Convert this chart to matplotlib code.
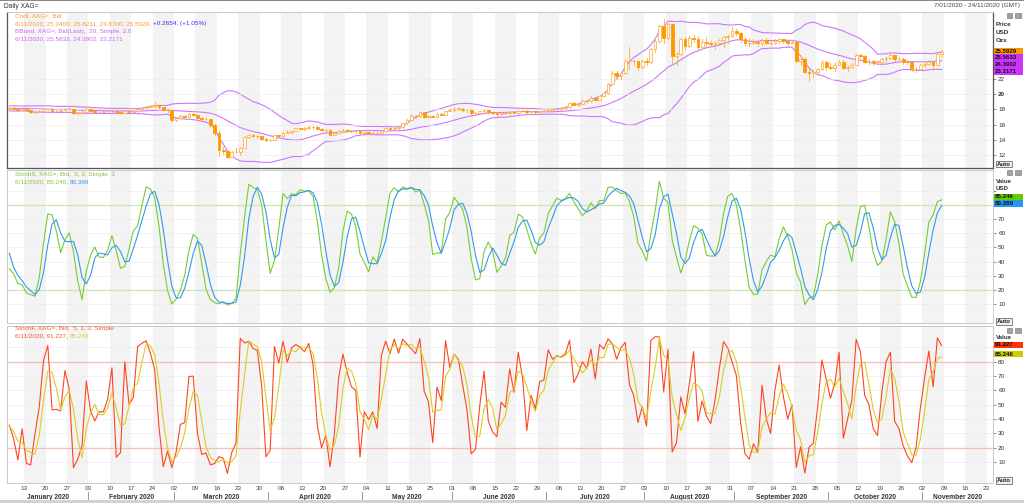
import numpy as np
import pandas as pd
import matplotlib
matplotlib.use('Agg')
import matplotlib.pyplot as plt
from matplotlib.patches import Rectangle
import matplotlib.transforms as mtrans

plt.rcParams['font.family'] = ['Liberation Sans', 'DejaVu Sans']

# daily XAG= bid, 21 warm-up days (9 Dec 2019 - 6 Jan 2020) then 7 Jan - 6 Nov 2020
opens = [
    17.75, 17.80, 17.95, 18.20, 18.05, 17.85, 18.10, 18.35, 18.20, 17.95, 17.90, 18.15, 18.40, 18.25, 18.00, 17.85, 18.05, 18.30, 18.45, 18.20, 18.05,  # warm-up
    18.09, 18.17, 18.09, 17.93, 18.10, 17.91, 17.60, 17.70, 17.82, 18.02, 18.04, 17.80, 17.84, 17.90, 18.05, 18.07, 17.50, 17.55, 17.62,  # jan
    18.00, 17.74, 17.68, 17.72, 17.78, 17.82, 17.80, 17.62, 17.58, 17.84, 17.72, 17.74, 18.00, 18.20, 18.36, 18.50, 18.60, 18.28, 17.95, 17.88,  # feb
    16.60, 16.82, 17.13, 17.05, 17.46, 17.25, 16.90, 16.75, 16.76, 15.90, 14.85, 12.60, 12.55, 11.75, 12.38, 12.45, 12.95, 14.35, 14.62, 14.50, 14.46, 14.10,  # mar
    13.98, 14.00, 14.60, 14.50, 14.95, 15.00, 15.16, 15.50, 15.48, 15.52, 15.72, 15.65, 15.46, 15.24, 15.30, 14.68, 14.95, 15.22, 15.30, 15.18, 15.10, 15.20,  # apr
    14.95, 14.98, 14.90, 14.92, 14.85, 15.20, 15.50, 15.48, 15.58, 15.66, 16.20, 16.60, 17.18, 17.12, 17.60, 17.05, 17.15, 17.05, 17.38, 17.30, 17.80,  # may
    17.90, 18.10, 18.10, 17.92, 17.98, 17.50, 17.52, 17.76, 17.90, 17.62, 17.58, 17.38, 17.58, 17.55, 17.60, 17.52, 17.82, 17.80, 17.62, 17.75, 17.70, 17.80,  # jun
    17.82, 17.98, 18.00, 18.02, 18.20, 18.30, 18.80, 18.62, 18.70, 19.10, 19.08, 19.56, 19.30, 19.80, 20.10, 21.40, 22.80, 22.40, 22.75, 24.35, 24.40, 24.35, 23.55,  # jul
    24.40, 24.25, 25.95, 27.05, 28.95, 27.40, 29.20, 25.00, 25.30, 27.20, 26.30, 27.40, 27.30, 26.20, 26.90, 26.70, 26.60, 26.80, 27.10, 27.50, 27.60,  # aug
    28.30, 28.10, 27.20, 26.80, 26.70, 26.90, 26.70, 27.10, 26.80, 26.70, 27.00, 27.20, 27.00, 26.80, 26.90, 24.40, 24.60, 22.90, 22.80, 22.90, 23.30, 24.30,  # sep
    23.60, 23.50, 23.90, 24.30, 23.40, 23.60, 23.80, 25.20, 25.00, 24.30, 24.40, 24.30, 24.30, 24.60, 24.70, 25.20, 24.60, 24.60, 24.30, 24.20, 23.30, 23.30,  # oct
    23.80, 24.00, 24.30, 23.90, 25.34,  # nov
]
highs = [
    17.88, 18.03, 18.28, 18.28, 18.13, 18.18, 18.43, 18.43, 18.28, 18.03, 18.23, 18.48, 18.48, 18.33, 18.08, 18.13, 18.38, 18.53, 18.53, 18.28, 18.23,
    18.32, 18.62, 18.14, 18.15, 18.14, 17.95, 17.78, 17.86, 18.05, 18.09, 18.08, 17.90, 17.97, 18.16, 18.28, 18.10, 17.70, 17.74, 18.06,
    18.05, 17.80, 17.85, 17.84, 17.88, 17.88, 17.84, 17.70, 17.92, 17.90, 17.80, 18.05, 18.25, 18.40, 18.64, 18.91, 18.64, 18.32, 18.05, 17.90,
    16.90, 17.28, 17.22, 17.55, 17.58, 17.40, 17.00, 17.00, 16.80, 16.10, 15.10, 13.00, 12.70, 12.50, 12.90, 13.00, 14.55, 14.80, 14.80, 14.65, 14.55, 14.22,
    14.16, 14.68, 14.66, 15.02, 15.30, 15.20, 15.60, 15.60, 15.62, 15.78, 15.80, 15.78, 15.50, 15.42, 15.36, 15.00, 15.30, 15.40, 15.38, 15.28, 15.25, 15.25,
    15.08, 15.02, 15.02, 15.00, 15.30, 15.55, 15.62, 15.62, 15.80, 16.25, 16.70, 17.40, 17.30, 17.68, 17.70, 17.25, 17.25, 17.50, 17.50, 17.85, 18.20,
    18.30, 18.25, 18.18, 18.10, 18.05, 17.65, 17.80, 17.98, 17.98, 17.75, 17.60, 17.72, 17.66, 17.72, 17.78, 17.90, 17.98, 17.88, 17.80, 17.82, 17.85, 18.00,
    18.05, 18.10, 18.08, 18.30, 18.40, 18.85, 19.00, 18.85, 19.35, 19.20, 19.70, 19.65, 19.90, 20.25, 21.50, 23.10, 23.05, 22.95, 24.65, 26.20, 24.55, 24.40, 24.50,
    24.75, 26.10, 27.15, 29.10, 29.85, 29.40, 29.30, 25.60, 27.40, 27.50, 27.60, 27.80, 27.60, 27.20, 27.50, 27.00, 27.00, 27.30, 27.60, 27.80, 28.90,
    28.60, 28.20, 27.50, 27.40, 27.20, 27.00, 27.30, 27.40, 27.00, 27.30, 27.40, 27.30, 27.10, 27.10, 26.90, 25.00, 24.90, 23.30, 23.20, 23.50, 24.50, 24.40,
    24.10, 24.20, 24.50, 24.50, 23.70, 24.10, 25.30, 25.30, 25.10, 24.60, 24.50, 24.50, 24.80, 24.90, 25.40, 25.20, 24.90, 24.80, 24.50, 24.30, 23.60, 24.00,
    24.20, 24.50, 24.40, 25.40, 25.8211,
]
lows = [
    17.67, 17.72, 17.87, 17.97, 17.77, 17.77, 18.02, 18.12, 17.87, 17.82, 17.82, 18.07, 18.17, 17.92, 17.77, 17.77, 17.97, 18.22, 18.12, 17.97, 17.97,
    18.04, 17.90, 17.84, 17.89, 17.85, 17.51, 17.55, 17.62, 17.78, 17.98, 17.77, 17.74, 17.77, 17.86, 17.92, 17.45, 17.45, 17.44, 17.60,
    17.68, 17.55, 17.64, 17.65, 17.70, 17.70, 17.58, 17.52, 17.55, 17.70, 17.65, 17.70, 17.95, 18.12, 18.28, 18.20, 18.17, 17.88, 17.66, 16.45,
    16.48, 16.74, 16.94, 16.98, 17.13, 16.61, 16.60, 16.60, 15.75, 14.60, 11.90, 12.10, 11.64, 11.70, 12.20, 12.00, 12.90, 14.20, 14.35, 14.30, 13.92, 13.85,
    13.82, 13.95, 14.35, 14.40, 14.85, 14.95, 15.10, 15.40, 15.27, 15.40, 15.45, 15.40, 15.10, 15.15, 14.60, 14.60, 14.90, 15.15, 15.05, 14.98, 14.95, 14.88,
    14.65, 14.75, 14.82, 14.65, 14.80, 15.10, 15.40, 15.40, 15.45, 15.60, 16.10, 16.55, 16.90, 17.05, 16.85, 16.90, 17.00, 16.95, 17.20, 17.25, 17.75,
    17.85, 17.98, 17.78, 17.70, 17.35, 17.40, 17.45, 17.60, 17.45, 17.45, 17.15, 17.30, 17.40, 17.45, 17.50, 17.50, 17.75, 17.55, 17.45, 17.55, 17.60, 17.70,
    17.70, 17.85, 17.90, 17.95, 18.10, 18.25, 18.60, 18.45, 18.65, 18.90, 19.00, 19.18, 19.25, 19.70, 20.00, 21.20, 22.05, 21.95, 22.70, 23.35, 23.90, 23.20, 23.50,
    23.90, 24.15, 25.50, 26.70, 26.80, 27.20, 24.00, 23.90, 25.20, 26.00, 26.20, 26.90, 26.00, 25.90, 26.30, 26.40, 25.90, 26.60, 26.20, 26.80, 27.50,
    27.80, 26.90, 26.40, 26.40, 26.60, 26.40, 26.50, 26.60, 26.50, 26.60, 26.80, 26.80, 26.40, 26.70, 24.20, 23.90, 22.80, 21.70, 22.30, 22.80, 23.20, 23.20,
    23.30, 23.00, 23.80, 23.30, 23.00, 23.50, 23.80, 24.80, 24.10, 24.00, 23.90, 24.10, 24.20, 24.20, 24.60, 24.40, 24.40, 24.00, 24.00, 23.10, 22.90, 23.20,
    23.60, 23.80, 23.22, 23.80, 24.87,
]
closes = [
    17.80, 17.95, 18.20, 18.05, 17.85, 18.10, 18.35, 18.20, 17.95, 17.90, 18.15, 18.40, 18.25, 18.00, 17.85, 18.05, 18.30, 18.45, 18.20, 18.05, 18.15,
    18.17, 18.09, 17.93, 18.10, 17.91, 17.60, 17.70, 17.82, 18.02, 18.04, 17.80, 17.84, 17.90, 18.05, 18.07, 17.50, 17.55, 17.62, 18.00,
    17.74, 17.68, 17.72, 17.78, 17.82, 17.80, 17.62, 17.58, 17.84, 17.72, 17.74, 18.00, 18.20, 18.36, 18.50, 18.60, 18.28, 17.95, 17.88, 16.60,
    16.82, 17.13, 17.05, 17.46, 17.25, 16.90, 16.75, 16.76, 15.90, 14.85, 12.60, 12.55, 11.75, 12.38, 12.45, 12.95, 14.35, 14.62, 14.50, 14.46, 14.10, 13.98,
    14.00, 14.60, 14.50, 14.95, 15.00, 15.16, 15.50, 15.48, 15.52, 15.72, 15.65, 15.46, 15.24, 15.30, 14.68, 14.95, 15.22, 15.30, 15.18, 15.10, 15.20, 14.95,
    14.98, 14.90, 14.92, 14.85, 15.20, 15.50, 15.48, 15.58, 15.66, 16.20, 16.60, 17.18, 17.12, 17.60, 17.05, 17.15, 17.05, 17.38, 17.30, 17.80, 17.90,
    18.10, 18.10, 17.92, 17.98, 17.50, 17.52, 17.76, 17.90, 17.62, 17.58, 17.38, 17.58, 17.55, 17.60, 17.52, 17.82, 17.80, 17.62, 17.75, 17.70, 17.80, 17.82,
    17.98, 18.00, 18.02, 18.20, 18.30, 18.80, 18.62, 18.70, 19.10, 19.08, 19.56, 19.30, 19.80, 20.10, 21.40, 22.80, 22.40, 22.75, 24.35, 24.40, 24.35, 23.55, 24.40,
    24.25, 25.95, 27.05, 28.95, 27.40, 29.20, 25.00, 25.30, 27.20, 26.30, 27.40, 27.30, 26.20, 26.90, 26.70, 26.60, 26.80, 27.10, 27.50, 27.60, 28.30,
    28.10, 27.20, 26.80, 26.70, 26.90, 26.70, 27.10, 26.80, 26.70, 27.00, 27.20, 27.00, 26.80, 26.90, 24.40, 24.60, 22.90, 22.80, 22.90, 23.30, 24.30, 23.60,
    23.50, 23.90, 24.30, 23.40, 23.60, 23.80, 25.20, 25.00, 24.30, 24.40, 24.30, 24.30, 24.60, 24.70, 25.20, 24.60, 24.60, 24.30, 24.20, 23.30, 23.30, 23.80,
    24.00, 24.30, 23.90, 25.3275, 25.5929,
]

price_ticks = [12, 14, 16, 18, 20, 22]
value_ticks = [10, 20, 30, 40, 50, 60, 70, 80, 90]

dates = pd.bdate_range('2019-12-09', '2020-11-06')
axis_days = pd.bdate_range('2020-01-07', '2020-11-24')
n_warm = 21
pos = np.arange(len(dates)) - n_warm

o = pd.Series(opens)
h = pd.Series(highs)
l = pd.Series(lows)
c = pd.Series(closes)

# bollinger 20, 2.0
mid = c.rolling(20).mean()
sdev = c.rolling(20).std(ddof=0)
bb_up = mid + 2 * sdev
bb_lo = mid - 2 * sdev

# stochastics
hh = h.rolling(5).max()
ll = l.rolling(5).min()
fast_k = 100 * (c - ll) / (hh - ll)
fast_d = fast_k.rolling(3).mean()
slow_k = fast_d
slow_d = slow_k.rolling(3).mean()

W, H = 1024, 503
fig = plt.figure(figsize=(W / 100, H / 100), dpi=100)
fig.patch.set_facecolor('white')


def pax(x0, y0, x1, y1):
    return fig.add_axes([x0 / W, 1 - y1 / H, (x1 - x0) / W, (y1 - y0) / H])


def ftext(x, y, s, **kw):
    kw.setdefault('fontsize', 4.6)
    kw.setdefault('va', 'center')
    return fig.text(x / W, 1 - y / H, s, **kw)


def frect(x0, y0, x1, y1, **kw):
    r = Rectangle((x0 / W, 1 - y1 / H), (x1 - x0) / W, (y1 - y0) / H,
                  transform=fig.transFigure, **kw)
    fig.add_artist(r)
    return r


ax1 = pax(7, 12, 993, 168)
ax2 = pax(7, 170, 993, 323)
ax3 = pax(7, 326, 993, 483)
ax1.set_ylim(22 + (79 - 168) / 7.6, 22 + (79 - 12) / 7.6)
ax2.set_ylim((318.4 - 323) / 1.42, (318.4 - 170) / 1.42)
ax3.set_ylim((476.4 - 483) / 1.433, (476.4 - 326) / 1.433)

mondays = [i for i, d in enumerate(axis_days) if d.weekday() == 0]
for ax in (ax1, ax2, ax3):
    ax.set_xlim(-0.54, 230.0)
    for k, m in enumerate(mondays):
        if k % 2 == 0:
            ax.axvspan(m - 0.5, m + 4.5, color='#F3F3F3', lw=0, zorder=0)
    ax.set_xticks([])
    ax.yaxis.tick_right()
    ax.tick_params(axis='y', direction='out', length=2.5, width=0.5, color='#666666',
                   labelsize=4.6, pad=1.2, labelcolor='#333333')
    ax.grid(axis='y', color='#ECECEC', lw=0.5, zorder=0.5)
    for s in ax.spines.values():
        s.set_color('#C8C8C8')
        s.set_linewidth(0.7)

for s in ('left', 'right', 'bottom'):
    ax1.spines[s].set_color('#555555')
    ax1.spines[s].set_linewidth(0.9)

ax1.set_yticks(price_ticks)
ax1.set_yticklabels([str(t) for t in price_ticks])
ax1.get_yticklabels()[4].set_fontweight('bold')
# the top ticks sit behind the value boxes, so they carry no label
ax2.set_yticks(value_ticks)
ax2.set_yticklabels([str(t) if t <= 70 else '' for t in value_ticks])
ax3.set_yticks(value_ticks)
ax3.set_yticklabels([str(t) if t <= 80 else '' for t in value_ticks])

# candles
show = pos >= 0
for i in np.where(show)[0]:
    x = pos[i]
    ax1.plot([x, x], [l[i], h[i]], color='#FFB84D', lw=0.7, zorder=2)
    lo_b, hi_b = min(o[i], c[i]), max(o[i], c[i])
    if c[i] >= o[i]:
        ax1.add_patch(Rectangle((x - 0.32, lo_b), 0.64, max(hi_b - lo_b, 0.02),
                                facecolor='white', edgecolor='#FFB347', lw=0.6, zorder=3))
    else:
        ax1.add_patch(Rectangle((x - 0.32, lo_b), 0.64, max(hi_b - lo_b, 0.02),
                                facecolor='#FF9900', edgecolor='#FF9900', lw=0.6, zorder=3))

bb_col = '#CC77FF'
for band in (bb_up, mid, bb_lo):
    ax1.plot(pos[show], band[show], color=bb_col, lw=0.8, zorder=1.5)

ax2.axhline(80, color='#8CD048', lw=0.8, zorder=1)
ax2.axhline(20, color='#8CD048', lw=0.8, zorder=1)
ax2.plot(pos[show], slow_k[show], color='#77CC33', lw=0.8, zorder=2)
ax2.plot(pos[show], slow_d[show], color='#3399EE', lw=0.8, zorder=2)

ax3.axhline(80, color='#FF6644', lw=0.8, zorder=1)
ax3.axhline(20, color='#FF6644', lw=0.8, zorder=1)
ax3.plot(pos[show], fast_k[show], color='#FF4422', lw=0.8, zorder=2)
ax3.plot(pos[show], fast_d[show], color='#DDCC22', lw=0.8, zorder=2)

# legends in the panels
orange = '#FF9933'
violet = '#CC66FF'
ftext(15, 15.7, 'Cndl, XAG=, Bid', color=orange)
t = ftext(15, 24, '6/11/2020, 25.3400, 25.8211, 24.8700, 25.5929, ', color=orange)
ax1.annotate('+0.2654, (+1.05%)', xy=(1, 0.5), xycoords=t, va='center', ha='left',
             fontsize=4.6, color='#3333FF')
ftext(15, 31.7, 'BBand, XAG=, Bid(Last),  20, Simple, 2.0', color=violet)
ftext(15, 39, '6/11/2020, 25.5633, 24.3902, 23.2171', color=violet)

green = '#88C040'
ftext(15, 174.5, 'StochS, XAG=, Bid,  5, 3, Simple, 3', color=green)
t2 = ftext(15, 182, '6/11/2020, 85.246, ', color=green)
ax2.annotate('80.389', xy=(1, 0.5), xycoords=t2, va='center', ha='left',
             fontsize=4.6, color='#3399EE')

red = '#FF5533'
ftext(15, 328.5, 'StochF, XAG=, Bid,  5, 1, 3, Simple', color=red)
t3 = ftext(15, 336, '6/11/2020, 91.227, ', color=red)
ax3.annotate('85.246', xy=(1, 0.5), xycoords=t3, va='center', ha='left',
             fontsize=4.6, color='#CCCC33')

# header
frect(0, 0, W, 1.2, facecolor='#8A8A8A', lw=0)
ftext(4, 6, 'Daily XAG=', color='#333333', fontsize=4.8)
ftext(1020, 6, '7/01/2020 - 24/11/2020 (GMT)', color='#444444', ha='right')

# right hand scale labels and value boxes
for y, s in ((24.3, 'Price'), (32.3, 'USD'), (40.3, 'Ozs')):
    ftext(996, y, s, color='#333333', fontweight='bold')
for y, s in ((181.3, 'Value'), (188.3, 'USD')):
    ftext(996, y, s, color='#333333', fontweight='bold', fontsize=4.4)
ftext(996, 337.8, 'Value', color='#333333', fontweight='bold', fontsize=4.4)

boxes = [
    (48.3, 54.3, '#FF9900', '25.5929'),
    (54.3, 61.2, '#CC33FF', '25.5633'),
    (61.2, 68.1, '#CC33FF', '24.3902'),
    (68.1, 75.0, '#CC33FF', '23.2171'),
    (193.6, 200.0, '#66CC00', '85.246'),
    (200.0, 206.7, '#2299EE', '80.389'),
    (341.7, 347.5, '#FF3300', '91.227'),
    (350.7, 357.3, '#CCCC00', '85.246'),
]
for y0, y1, col, s in boxes:
    frect(993.5, y0, 1023, y1, facecolor=col, lw=0, zorder=5)
    ftext(994.5, (y0 + y1) / 2, s, color='#111111', fontweight='bold', fontsize=4.4, zorder=6)

for y in (164.2, 321.7, 480.7):
    ftext(1004, y, 'Auto', ha='center', color='#222222', fontweight='bold', fontsize=4.4,
          bbox=dict(boxstyle='square,pad=0.12', fc='#EFEFEF', ec='#555555', lw=0.5), zorder=6)

for y in (13.3, 170.3, 328.3):
    frect(1006.5, y, 1012, y + 5, facecolor='#A0A0A0', edgecolor='#707070', lw=0.4, zorder=6)
    frect(1014.5, y, 1020.5, y + 5, facecolor='#A0A0A0', edgecolor='#707070', lw=0.4, zorder=6)

# date axis
tr = mtrans.blended_transform_factory(ax3.transData, fig.transFigure)
for m in mondays:
    ax3.text(m - 0.5, 1 - 489 / H, axis_days[m].strftime('%d'), transform=tr, ha='center',
             va='center', fontsize=4.6, color='#444444', clip_on=False)

month_start = [i for i in range(len(axis_days)) if i == 0 or axis_days[i].month != axis_days[i - 1].month]
month_end = month_start[1:] + [230.5]
for s0, s1 in zip(month_start, month_end):
    a = max(s0 - 0.5, -0.54)
    b = min(s1 - 0.5, 230.0)
    ax3.text((a + b) / 2, 1 - 497.3 / H, axis_days[s0].strftime('%B %Y'), transform=tr,
             ha='center', va='center', fontsize=4.8, fontweight='bold', color='#333333',
             clip_on=False)
    if s0 > 0:
        ax3.plot([s0 - 0.5, s0 - 0.5], [1 - 491.5 / H, 1 - 500 / H], transform=tr,
                 color='#888888', lw=0.6, clip_on=False)

frect(0, 500, W, H, facecolor='#D2D2D2', lw=0)

fig.savefig('out.png', dpi=100)
